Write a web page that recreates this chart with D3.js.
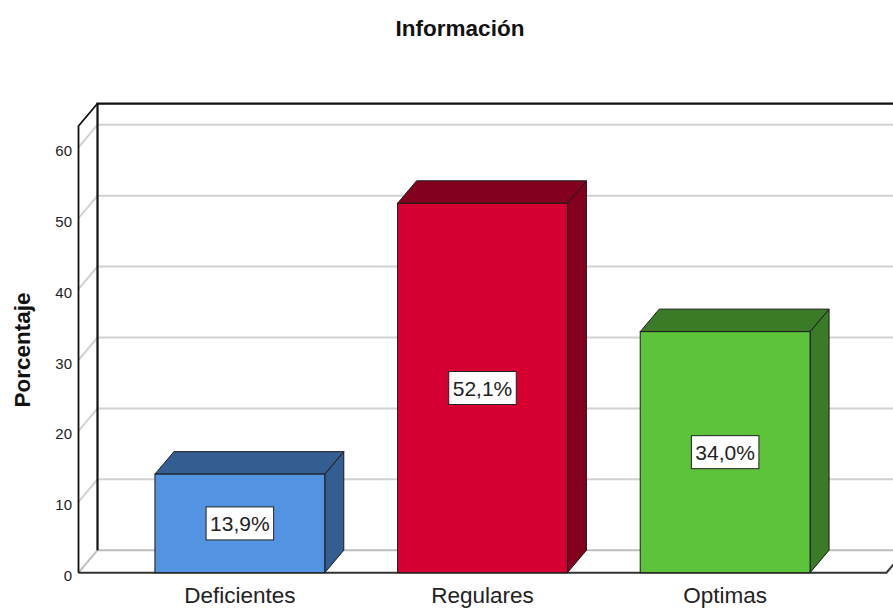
<!DOCTYPE html>
<html>
<head>
<meta charset="utf-8">
<script src="https://cdn.jsdelivr.net/npm/d3@7"></script>
<style>
  html, body { margin: 0; padding: 0; background: #fff; }
  svg { display: block; font-family: "Liberation Sans", Arial, sans-serif; }
</style>
</head>
<body>
<svg id="chart" width="893" height="608"></svg>
<script>
// Data
const categories = ["Deficientes", "Regulares", "Optimas"];
const percentages = [13.9, 52.1, 34.0];
const valueLabels = ["13,9%", "52,1%", "34,0%"];
const yTicks = [0, 10, 20, 30, 40, 50, 60];
const frontColors = ["#5294e2", "#d50031", "#5dc33b"];
const darkColors = ["#345d92", "#84001f", "#3b7a26"];

const svg = d3.select("#chart");

// Layout of the 3D box
const plotLeft = 78.5, plotRight = 886.5, base = 572.7;
const dx = 19, dy = -22.5;
const yMax = 63;

const x = d3.scaleBand().domain(categories).range([plotLeft, plotRight])
  .paddingInner(0.3).paddingOuter(0.315);
const y = d3.scaleLinear().domain([0, yMax]).range([base, base - yMax * 7.09]);

const line = d3.line();

// Gridlines on left wall and back wall
const g = svg.append("g");
yTicks.filter(v => v > 0).forEach(v => {
  g.append("path")
    .attr("d", line([[plotLeft, y(v)], [plotLeft + dx, y(v) + dy], [plotRight + dx + 20, y(v) + dy]]))
    .attr("fill", "none").attr("stroke", "#d2d2d2").attr("stroke-width", 2);
});

// Floor
g.append("path")
  .attr("d", line([[plotLeft, base], [plotLeft + dx, base + dy], [plotRight + dx, base + dy], [plotRight, base]]) + "Z")
  .attr("fill", "#fff").attr("stroke", "none");
g.append("path")
  .attr("d", line([[plotLeft, base], [plotLeft + dx, base + dy], [plotRight + dx, base + dy]]))
  .attr("fill", "none").attr("stroke", "#bdbdbd").attr("stroke-width", 2);
g.append("path")
  .attr("d", line([[plotLeft, base], [plotRight, base], [plotRight + dx, base + dy]]))
  .attr("fill", "none").attr("stroke", "#333").attr("stroke-width", 2);

// Walls outline
const yTop = y(yMax);
g.append("path")
  .attr("d", line([[plotLeft + dx, base + dy], [plotLeft + dx, yTop + dy], [plotRight + dx + 20, yTop + dy]]))
  .attr("fill", "none").attr("stroke", "#111").attr("stroke-width", 2.2);
g.append("path")
  .attr("d", line([[plotLeft, base], [plotLeft, yTop], [plotLeft + dx, yTop + dy]]))
  .attr("fill", "none").attr("stroke", "#111").attr("stroke-width", 1.8);

// Y tick labels
svg.append("g").selectAll("text").data(yTicks).join("text")
  .attr("x", 72).attr("y", d => y(d) + 8.5)
  .attr("text-anchor", "end").attr("font-size", 15).attr("fill", "#222")
  .text(d => d);

// Bars
const bars = svg.append("g").selectAll("g").data(categories).join("g");
bars.each(function (c, i) {
  const b = d3.select(this);
  const x0 = x(c), x1 = x0 + x.bandwidth();
  const yt = y(percentages[i]);
  // side
  b.append("path")
    .attr("d", line([[x1, base], [x1, yt], [x1 + dx, yt + dy], [x1 + dx, base + dy]]) + "Z")
    .attr("fill", darkColors[i]).attr("stroke", "#1a1a1a").attr("stroke-width", 1);
  // top
  b.append("path")
    .attr("d", line([[x0, yt], [x0 + dx, yt + dy], [x1 + dx, yt + dy], [x1, yt]]) + "Z")
    .attr("fill", darkColors[i]).attr("stroke", "#1a1a1a").attr("stroke-width", 1);
  // front
  b.append("rect")
    .attr("x", x0).attr("y", yt).attr("width", x1 - x0).attr("height", base - yt)
    .attr("fill", frontColors[i]).attr("stroke", "#1a1a1a").attr("stroke-width", 1);

  // value label box
  const cx = (x0 + x1) / 2, cy = (yt + base) / 2;
  const t = b.append("text")
    .attr("x", cx).attr("y", cy + 7.5)
    .attr("text-anchor", "middle").attr("font-size", 21).attr("fill", "#222")
    .text(valueLabels[i]);
  const w = t.node().getComputedTextLength();
  b.insert("rect", "text")
    .attr("x", cx - w / 2 - 4).attr("y", cy - 16.5)
    .attr("width", w + 8).attr("height", 33)
    .attr("fill", "#fff").attr("stroke", "#222").attr("stroke-width", 1);
});

// Category labels
svg.append("g").selectAll("text").data(categories).join("text")
  .attr("x", d => x(d) + x.bandwidth() / 2).attr("y", 603)
  .attr("text-anchor", "middle").attr("font-size", 22.5).attr("fill", "#222")
  .text(d => d);

// Title
svg.append("text")
  .attr("x", 460).attr("y", 36)
  .attr("text-anchor", "middle").attr("font-size", 22.5).attr("font-weight", "bold")
  .attr("fill", "#111").text("Información");

// Axis title
svg.append("text")
  .attr("transform", "translate(30,350) rotate(-90)")
  .attr("text-anchor", "middle").attr("font-size", 22.5).attr("font-weight", "bold")
  .attr("fill", "#111").text("Porcentaje");
</script>
</body>
</html>
